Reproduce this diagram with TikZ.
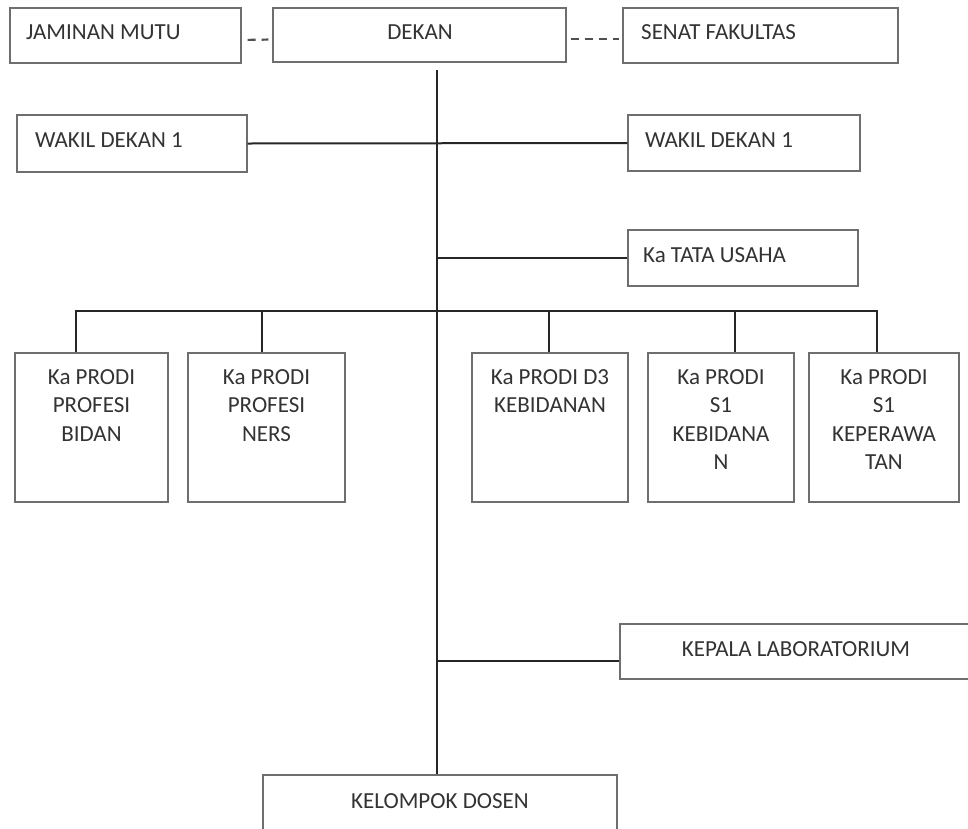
\documentclass[tikz,border=0pt]{standalone}
\usepackage{fontspec}
\setmainfont{Carlito}
\definecolor{boxgray}{HTML}{6E6E6E}
\definecolor{linec}{HTML}{262626}
\definecolor{dashc}{HTML}{505050}
\definecolor{txt}{HTML}{333333}
\begin{document}
\begin{tikzpicture}[x=1pt,y=-1pt,
  box/.style={draw=boxgray, line width=1.3pt, rectangle, inner sep=0pt},
  lbl/.style={inner sep=0pt, text=txt, font=\fontsize{23}{28.5}\selectfont},
  conn/.style={draw=linec, line width=2pt},
  dashconn/.style={draw=dashc, line width=2.2pt, dash pattern=on 8pt off 6pt},
]
\useasboundingbox (0,0) rectangle (968,828);
\clip (0,0) rectangle (968,828);
\fill[white] (0,0) rectangle (968,828);

% boxes
\node[box, minimum width=231pt, minimum height=55pt] (jm) at (125.5,35.5) {};
\node[box, minimum width=293pt, minimum height=54pt] (dk) at (419.5,35) {};
\node[box, minimum width=275pt, minimum height=55pt] (sf) at (760.5,35.5) {};
\node[box, minimum width=230pt, minimum height=57pt] (w1) at (132,143.5) {};
\node[box, minimum width=232pt, minimum height=56pt] (w2) at (744,143) {};
\node[box, minimum width=230pt, minimum height=56pt] (tu) at (743,258) {};
\node[box, minimum width=153pt, minimum height=149pt] (p1) at (91.5,427.5) {};
\node[box, minimum width=157pt, minimum height=149pt] (p2) at (266.5,427.5) {};
\node[box, minimum width=156pt, minimum height=149pt] (p3) at (550,427.5) {};
\node[box, minimum width=146pt, minimum height=149pt] (p4) at (721,427.5) {};
\node[box, minimum width=150pt, minimum height=149pt] (p5) at (884,427.5) {};
\node[box, minimum width=380pt, minimum height=55pt] (kl) at (810,651.5) {};
\node[box, minimum width=354pt, minimum height=65pt] (kd) at (440,807.5) {};

% labels
\node[lbl, anchor=base west] (jmt) at (26,39) {JAMINAN MUTU};
\node[lbl, anchor=base] (dkt) at (420,39) {DEKAN};
\node[lbl, anchor=base west] (sft) at (641,39) {SENAT FAKULTAS};
\node[lbl, anchor=base west] (w1t) at (35,147) {WAKIL DEKAN 1};
\node[lbl, anchor=base west] (w2t) at (645,147) {WAKIL DEKAN 1};
\node[lbl, anchor=base west] (tut) at (643,262) {Ka TATA USAHA};
\node[lbl, anchor=north, align=center] (p1t) at (91.5,369) {Ka PRODI\\PROFESI\\BIDAN};
\node[lbl, anchor=north, align=center] (p2t) at (266.5,369) {Ka PRODI\\PROFESI\\NERS};
\node[lbl, anchor=north, align=center] (p3t) at (550,369) {Ka PRODI D3\\KEBIDANAN};
\node[lbl, anchor=north, align=center] (p4t) at (721,369) {Ka PRODI\\S1\\KEBIDANA\\N};
\node[lbl, anchor=north, align=center] (p5t) at (884,369) {Ka PRODI\\S1\\KEPERAWA\\TAN};
\node[lbl, anchor=base] (klt) at (796,656) {KEPALA LABORATORIUM};
\node[lbl, anchor=base] (kdt) at (440,808) {KELOMPOK DOSEN};

% dashed links
\draw[dashconn, shorten <=6pt, shorten >=4pt] ([yshift=-4.5pt]jm.east) -- ([yshift=-4.5pt]dk.west);
\draw[dashconn, shorten <=4pt, shorten >=3pt] ([yshift=-4pt]dk.east) -- ([yshift=-3.5pt]sf.west);

% trunk
\coordinate (top) at (437,70);
\coordinate (busy) at (0,311);
\draw[conn] (top) -- (top |- kd.north);

% wakil line
\draw[conn] (w1.east) -- (w2.west);
% tata usaha
\draw[conn] (top |- tu.west) -- (tu.west);

% bus
\draw[conn] ([xshift=-15.5pt]p1.north) -- ([xshift=-15.5pt]p1.north |- busy)
  -- ([xshift=-7pt]p5.north |- busy) -- ([xshift=-7pt]p5.north);
\draw[conn] ([xshift=-4.5pt]p2.north) -- ([xshift=-4.5pt]p2.north |- busy);
\draw[conn] ([xshift=-1pt]p3.north) -- ([xshift=-1pt]p3.north |- busy);
\draw[conn] ([xshift=14pt]p4.north) -- ([xshift=14pt]p4.north |- busy);

% lab line
\coordinate (klin) at ([yshift=-9.5pt]kl.west);
\draw[conn, line width=2.4pt] (klin) -- (top |- klin);
\end{tikzpicture}
\end{document}
